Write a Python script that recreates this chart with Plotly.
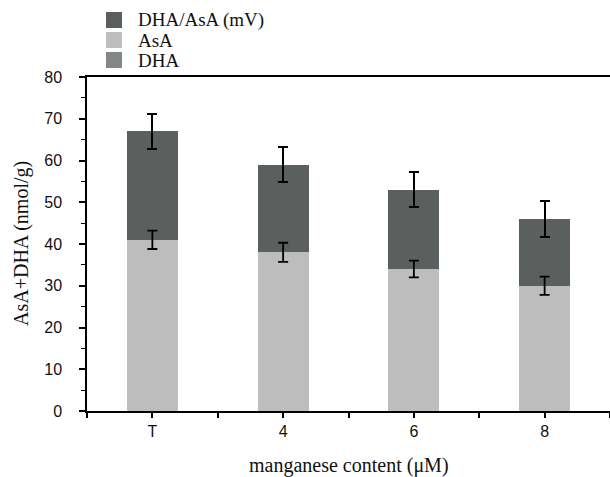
import plotly.graph_objects as go

categories = ["T", "4", "6", "8"]
asa = [41, 38, 34, 30]
dha_asa = [26, 21, 19, 16]
dha = [0, 0, 0, 0]
asa_err = [2.2, 2.3, 2.0, 2.2]
total_err = [4.2, 4.2, 4.2, 4.3]
y_ticks = [0, 10, 20, 30, 40, 50, 60, 70, 80]

legend_names = ["DHA/AsA (mV)", "AsA", "DHA"]
colors = {"DHA/AsA (mV)": "#5b605f", "AsA": "#bdbdbd", "DHA": "#838887"}

W, H = 610, 477
ML, MR, MT, MB = 87, 0, 77, 66
PW, PH = W - ML - MR, H - MT - MB

xpos = list(range(len(categories)))
err_style = dict(type="data", color="black", thickness=1.8, width=5)

fig = go.Figure()
fig.add_trace(go.Bar(
    x=xpos, y=asa, name="AsA", marker=dict(color=colors["AsA"], line=dict(width=0)),
    width=0.39, showlegend=False,
))
fig.add_trace(go.Bar(
    x=xpos, y=dha_asa, name="DHA/AsA (mV)", marker=dict(color=colors["DHA/AsA (mV)"], line=dict(width=0)),
    error_y=dict(array=total_err, **err_style), width=0.39, showlegend=False,
))
fig.add_trace(go.Bar(
    x=xpos, y=dha, name="DHA", marker=dict(color=colors["DHA"], line=dict(width=0)),
    width=0.39, showlegend=False,
))
# AsA error bars drawn above the stacked bars
fig.add_trace(go.Scatter(
    x=xpos, y=asa, mode="markers", marker=dict(opacity=0, size=1),
    error_y=dict(array=asa_err, **err_style), showlegend=False, hoverinfo="skip",
))

# manual legend (pixel positions converted to paper coordinates)
def px_x(px):
    return (px - ML) / PW

def px_y(py):
    return (H - MB - py) / PH

row_top = [12, 32, 52]
for name, top in zip(legend_names, row_top):
    fig.add_shape(type="rect", xref="paper", yref="paper",
                  x0=px_x(106), x1=px_x(122), y0=px_y(top), y1=px_y(top + 16),
                  fillcolor=colors[name], line=dict(width=0))
    fig.add_annotation(text=name, xref="paper", yref="paper",
                       x=px_x(136), y=px_y(top + 8), xanchor="left", yanchor="middle",
                       showarrow=False, font=dict(family="Liberation Serif", size=19, color="#111"))

# y-axis title
fig.add_annotation(text="AsA+DHA (nmol/g)", xref="paper", yref="paper",
                   x=px_x(21), y=0.5, xanchor="center", yanchor="middle", textangle=-90,
                   showarrow=False, font=dict(family="Liberation Serif", size=20, color="#111"))

# x-axis title
fig.add_annotation(text="manganese content (μM)", xref="paper", yref="paper",
                   x=0.5, y=px_y(465), xanchor="center", yanchor="middle",
                   showarrow=False, font=dict(family="Liberation Serif", size=20, color="#111"))

fig.update_layout(
    width=W, height=H,
    margin=dict(l=ML, r=MR, t=MT, b=MB, autoexpand=False),
    barmode="stack",
    plot_bgcolor="white", paper_bgcolor="white",
    showlegend=False,
    font=dict(family="Liberation Sans", color="#111"),
)

fig.update_xaxes(
    range=[-0.5, 3.5], tickvals=xpos, ticktext=categories,
    showline=True, linecolor="black", linewidth=1.5, mirror=True,
    ticks="outside", ticklen=5, tickwidth=1.5, tickcolor="black",
    minor=dict(dtick=0.5, tick0=-0.5, ticks="outside", ticklen=5, tickwidth=1.5, tickcolor="black"),
    tickfont=dict(family="Liberation Sans", size=16, color="#111"),
    ticklabelstandoff=0,
    showgrid=False, zeroline=False,
)
fig.update_yaxes(
    range=[0, 80], tickvals=y_ticks,
    showline=True, linecolor="black", linewidth=1.5, mirror=False,
    ticks="outside", ticklen=6, tickwidth=1.5, tickcolor="black",
    minor=dict(dtick=5, ticks="outside", ticklen=4, tickwidth=1.2, tickcolor="black"),
    tickfont=dict(family="Liberation Sans", size=16, color="#111"),
    ticklabelstandoff=14,
    showgrid=False, zeroline=False,
)

fig.write_html("out.html")
